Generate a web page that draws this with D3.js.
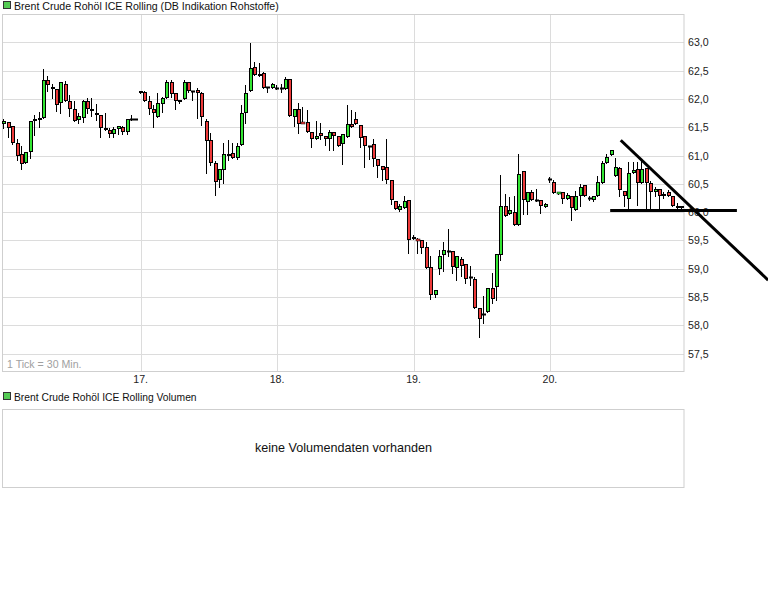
<!DOCTYPE html>
<html><head><meta charset="utf-8">
<script src="https://cdn.jsdelivr.net/npm/d3@7/dist/d3.min.js"></script>
<style>body{margin:0;background:#fff}svg{display:block}</style>
</head><body>
<svg id="c" width="768" height="614"></svg>
<script>
// ---- data (30-min candles, 16.–20.) ----
const openP  = [61.55,61.59,61.52,61.22,61.02,60.87,61.06,61.64,61.63,61.66,62.34,62.21,62.17,61.92,62.26,61.97,61.82,61.62,61.67,61.96,61.82,61.76,61.71,61.48,61.45,61.38,61.47,61.50,61.41,61.65,61.65,
62.10,62.12,61.96,61.82,61.68,61.91,62.01,62.29,62.10,61.94,61.99,62.29,62.14,62.16,62.10,61.61,61.28,60.87,60.56,60.75,61.00,61.04,60.95,61.18,61.75,62.14,62.57,62.40,62.45,62.21,62.20,
62.20,62.19,62.18,62.36,61.68,61.82,61.60,61.59,61.41,61.30,61.39,61.35,61.29,61.41,61.35,61.21,61.33,61.55,61.64,61.54,61.35,61.16,61.20,60.94,60.82,60.79,60.56,60.20,60.04,60.08,60.21,
59.56,59.53,59.50,59.38,59.03,58.53,59.00,59.24,59.32,59.32,59.01,59.18,59.09,58.86,58.82,58.31,58.21,58.23,58.66,58.68,59.24,60.11,59.96,60.00,59.78,60.72,60.18,60.36,60.22,60.21,60.09,
60.58,60.54,60.34,60.36,60.23,60.28,60.04,60.28,60.48,60.25,60.21,60.29,60.52,60.87,61.01,60.64,60.78,60.37,60.23,60.70,60.76,60.52,60.78,60.52,60.36,60.41,60.29,60.35,60.29,60.11,60.07];
const highP  = [61.64,61.59,61.52,61.29,61.17,61.06,61.61,61.72,61.77,62.52,62.40,62.27,62.17,62.29,62.31,62.07,61.97,61.76,61.98,62.01,62.01,61.91,61.71,61.75,61.48,61.51,61.52,61.52,61.64,61.72,61.65,
62.14,62.14,62.06,61.89,62.10,62.04,62.33,62.34,62.10,61.98,62.33,62.29,62.14,62.19,62.12,61.65,61.39,60.90,60.76,61.23,61.28,61.22,61.22,61.89,62.24,62.99,62.65,62.63,62.47,62.21,62.28,
62.24,62.26,62.38,62.36,61.83,61.93,61.85,61.80,61.41,61.61,61.58,61.35,61.45,61.41,61.35,61.38,61.89,61.80,61.77,61.54,61.35,61.16,61.29,60.94,60.82,61.29,60.56,60.20,60.14,60.29,60.21,
59.60,59.55,59.50,59.47,59.23,58.63,59.34,59.47,59.70,59.32,59.22,59.21,59.09,59.05,58.85,58.31,58.52,58.66,58.92,59.26,60.66,60.32,60.26,60.28,61.03,60.72,60.36,60.40,60.41,60.21,60.17,
60.62,60.57,60.36,60.36,60.33,60.28,60.37,60.49,60.48,60.28,60.29,60.63,60.90,61.02,61.09,60.95,60.80,60.37,60.88,60.88,60.89,60.94,60.78,60.55,60.45,60.41,60.36,60.40,60.29,60.16,60.10];
const lowP   = [61.48,61.33,61.20,60.92,60.76,60.87,60.96,61.36,61.51,61.66,62.14,62.01,61.79,61.75,61.97,61.69,61.61,61.58,61.60,61.75,61.69,61.63,61.32,61.45,61.32,61.32,61.38,61.38,61.38,61.62,61.65,
62.10,61.96,61.73,61.51,61.68,61.77,62.01,62.04,61.83,61.92,61.99,62.12,61.98,61.66,61.54,60.69,60.84,60.31,60.45,60.52,60.92,60.95,60.93,61.18,61.58,62.14,62.42,62.40,62.20,62.12,62.20,
62.17,62.13,62.18,61.69,61.53,61.40,61.58,61.41,61.15,61.30,61.30,61.19,61.09,61.10,61.17,60.85,61.33,61.50,61.55,61.15,60.79,60.94,60.81,60.62,60.56,60.51,60.15,60.06,60.02,60.08,59.28,
59.52,59.28,59.28,59.02,58.46,58.50,58.90,58.96,59.23,58.92,58.80,58.87,58.75,58.72,58.31,57.79,58.05,58.23,58.40,58.44,59.16,59.94,59.96,59.78,59.78,59.96,59.97,60.22,60.19,59.98,60.09,
60.54,60.34,60.32,60.16,60.23,59.87,60.04,60.10,60.28,60.21,60.19,60.29,60.52,60.87,61.01,60.64,60.28,60.10,60.03,60.70,60.13,60.52,60.04,60.04,60.29,60.04,60.25,60.29,60.10,60.05,60.07];
const closeP = [61.61,61.48,61.22,61.00,60.85,61.06,61.61,61.61,61.66,62.34,62.24,62.17,61.89,62.29,61.97,61.82,61.61,61.69,61.96,61.82,61.78,61.71,61.48,61.45,61.38,61.46,61.52,61.42,61.64,61.65,61.65,
62.14,61.96,61.82,61.75,61.92,62.01,62.30,62.08,61.97,61.98,62.30,62.14,62.14,62.10,61.68,61.26,60.87,60.54,60.76,61.02,61.02,60.95,61.17,61.75,62.11,62.55,62.42,62.44,62.20,62.21,62.26,
62.20,62.19,62.35,61.69,61.83,61.55,61.58,61.41,61.30,61.35,61.35,61.29,61.41,61.35,61.17,61.38,61.55,61.50,61.55,61.31,61.16,61.16,60.94,60.82,60.74,60.56,60.22,60.06,60.10,60.19,59.50,
59.52,59.50,59.37,59.02,58.53,58.63,59.23,59.34,59.32,59.03,59.22,59.05,58.82,58.86,58.31,58.12,58.21,58.66,58.47,59.26,60.11,59.94,60.03,59.78,60.67,60.21,60.36,60.22,60.22,60.10,60.14,
60.58,60.34,60.36,60.23,60.31,60.07,60.28,60.45,60.28,60.25,60.29,60.53,60.87,60.97,61.09,60.79,60.40,60.29,60.70,60.75,60.52,60.76,60.52,60.36,60.41,60.28,60.32,60.29,60.10,60.07,60.10];
const dayLabels = ["17.","18.","19.","20."];
const dayStartIdx = [31,62,93,124];
const yTicks = [57.5,58.0,58.5,59.0,59.5,60.0,60.5,61.0,61.5,62.0,62.5,63.0];
const trendDiag  = [{i:140.1,p:61.27},{i:173.6,p:58.80}];
const trendHoriz = [{i:137.7,p:60.03},{i:166.5,p:60.03}];
const titleMain = "Brent Crude Rohöl ICE Rolling (DB Indikation Rohstoffe)";
const titleVol = "Brent Crude Rohöl ICE Rolling Volumen";
const noVolText = "keine Volumendaten vorhanden";
const tickNote = "1 Tick = 30 Min.";

// ---- drawing ----
const svg = d3.select("#c");
const FONT = "'Liberation Sans', Arial, sans-serif";
const L = 3, R = 684, T = 14, B = 371;
const x = d3.scaleLinear().domain([0, openP.length - 1]).range([4.3, 681.9]);
const y = d3.scaleLinear().domain([57.5, 63]).range([353.7, 42.3]);
const data = openP.map((o, i) => ({i, o, h: highP[i], l: lowP[i], c: closeP[i]}));

function legend(ty, text, size) {
  svg.append("rect").attr("x", 3.5).attr("y", ty - 8.5).attr("width", 7).attr("height", 7)
    .attr("fill", "#55cc55").attr("stroke", "#333").attr("stroke-width", 1);
  svg.append("text").attr("x", 14).attr("y", ty).attr("font-family", FONT).attr("font-size", size)
    .attr("fill", "#111").text(text);
}
legend(10, titleMain, 10.6);

// grid
const g = svg.append("g");
g.selectAll("line.h").data(yTicks).join("line")
  .attr("x1", L).attr("x2", R).attr("y1", d => Math.round(y(d)) + 0.5).attr("y2", d => Math.round(y(d)) + 0.5)
  .attr("stroke", "#dcdcdc").attr("stroke-width", 1);
g.selectAll("line.v").data(dayStartIdx).join("line")
  .attr("y1", T).attr("y2", B).attr("x1", d => Math.round(x(d)) + 0.5).attr("x2", d => Math.round(x(d)) + 0.5)
  .attr("stroke", "#dcdcdc").attr("stroke-width", 1);
svg.append("rect").attr("x", L - 0.5).attr("y", T + 0.5).attr("width", R - L + 0.5).attr("height", B - T)
  .attr("fill", "none").attr("stroke", "#cfcfcf").attr("stroke-width", 1);

// y labels
svg.selectAll("text.yl").data(yTicks).join("text")
  .attr("x", 688).attr("y", d => y(d) + 4).attr("font-family", FONT).attr("font-size", 10.6)
  .attr("fill", "#222").text(d => d3.format(".1f")(d).replace(".", ","));
// x labels
svg.selectAll("text.xl").data(dayStartIdx).join("text")
  .attr("x", d => x(d)).attr("y", 383).attr("text-anchor", "middle").attr("font-family", FONT)
  .attr("font-size", 10.6).attr("fill", "#222").text((d, k) => dayLabels[k]);
svg.append("text").attr("x", 7).attr("y", 368).attr("font-family", FONT).attr("font-size", 10.6)
  .attr("fill", "#a0a0a0").text(tickNote);

// candles
const cg = svg.append("g");
data.forEach(d => {
  const cx = Math.round(x(d.i));
  cg.append("line").attr("x1", cx - 0.5).attr("x2", cx - 0.5)
    .attr("y1", Math.round(y(d.h))).attr("y2", Math.round(y(d.l)) + 1)
    .attr("stroke", "#000").attr("stroke-width", 1);
  const top = Math.round(y(Math.max(d.o, d.c))), bot = Math.round(y(Math.min(d.o, d.c)));
  if (bot - top < 2) {
    cg.append("rect").attr("x", cx - 2).attr("y", top - 0.5 + (bot - top) / 2).attr("width", 4)
      .attr("height", 2).attr("fill", d.c > d.o ? "#33e633" : (d.c < d.o ? "#ee3a3a" : "#000"))
      .attr("stroke", "#000").attr("stroke-width", d.c === d.o ? 0 : 0.5);
  } else {
    cg.append("rect").attr("x", cx - 1.5).attr("y", top + 0.5).attr("width", 3).attr("height", bot - top - 1)
      .attr("fill", d.c >= d.o ? "#33e633" : "#ee3a3a").attr("stroke", "#000").attr("stroke-width", 1);
  }
});

// trend lines (hand-drawn annotations)
const ln = d3.line().x(d => x(d.i)).y(d => y(d.p));
svg.append("path").attr("d", ln(trendDiag)).attr("stroke", "#000").attr("stroke-width", 3).attr("fill", "none");
svg.append("path").attr("d", ln(trendHoriz)).attr("stroke", "#000").attr("stroke-width", 3).attr("fill", "none");

// volume panel
legend(401, titleVol, 10.3);
svg.append("rect").attr("x", L - 0.5).attr("y", 409.5).attr("width", R - L + 0.5).attr("height", 78)
  .attr("fill", "none").attr("stroke", "#cfcfcf").attr("stroke-width", 1);
svg.append("text").attr("x", (L + R) / 2).attr("y", 452).attr("text-anchor", "middle")
  .attr("font-family", FONT).attr("font-size", 12.6).attr("fill", "#111").text(noVolText);
</script>
</body></html>
